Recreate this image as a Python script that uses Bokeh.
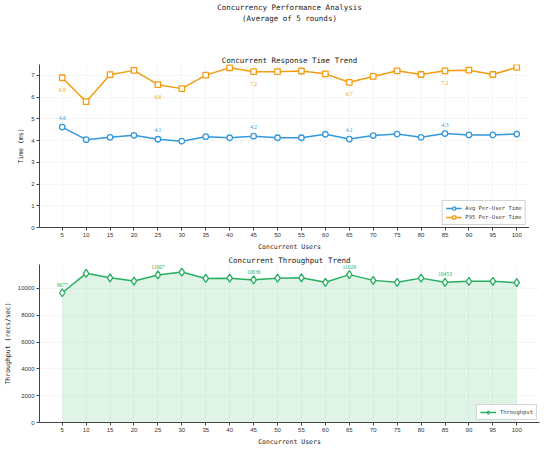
from bokeh.plotting import figure
from bokeh.models import ColumnDataSource, Range1d, FixedTicker, Title
from bokeh.layouts import column
from bokeh.embed import file_html
from bokeh.resources import INLINE

users = [5, 10, 15, 20, 25, 30, 35, 40, 45, 50, 55, 60, 65, 70, 75, 80, 85, 90, 95, 100]
avg_time = [4.62, 4.04, 4.15, 4.24, 4.06, 3.97, 4.18, 4.13, 4.20, 4.13,
            4.13, 4.29, 4.07, 4.23, 4.30, 4.15, 4.32, 4.26, 4.26, 4.30]
p95_time = [6.89, 5.79, 7.03, 7.23, 6.57, 6.39, 7.01, 7.35, 7.17, 7.17,
            7.20, 7.07, 6.68, 6.95, 7.21, 7.04, 7.21, 7.24, 7.04, 7.37]
throughput = [9677, 11127, 10791, 10552, 11007, 11223, 10743, 10767, 10636, 10760,
              10791, 10456, 11029, 10600, 10456, 10767, 10453, 10528, 10528, 10432]
label_idx = [0, 4, 8, 12, 16]
time_ticks = [0, 1, 2, 3, 4, 5, 6, 7]
tp_ticks = [0, 2000, 4000, 6000, 8000, 10000]

BLUE = "#3498db"
ORANGE = "#f39c12"
GREEN = "#27ae60"
MONO = "DejaVu Sans Mono"
SANS = "Liberation Sans"


def mktitle(text, standoff=0):
    return Title(text=text, align="center", text_font=MONO, text_font_size="7.5px",
                 text_font_style="normal", text_color="#222222", standoff=standoff)


def style(p, yticks, ylabel):
    p.outline_line_color = None
    p.background_fill_color = "white"
    for ax in (p.xaxis, p.yaxis):
        ax.axis_line_color = "#444444"
        ax.major_tick_line_color = "#444444"
        ax.minor_tick_line_color = None
        ax.major_tick_out = 3
        ax.major_tick_in = 0
        ax.major_label_text_font = SANS
        ax.major_label_text_font_size = "6px"
        ax.major_label_text_color = "#333333"
        ax.major_label_standoff = 2
        ax.axis_label_text_font = MONO
        ax.axis_label_text_font_size = "6.5px"
        ax.axis_label_text_font_style = "normal"
        ax.axis_label_text_color = "#222222"
        ax.axis_label_standoff = 3
    p.xaxis.ticker = FixedTicker(ticks=users)
    p.yaxis.ticker = FixedTicker(ticks=yticks)
    p.xaxis.axis_label = "Concurrent Users"
    p.yaxis.axis_label = ylabel
    p.grid.grid_line_color = "#d8d8d8"
    p.grid.grid_line_dash = "2 2"
    p.grid.grid_line_alpha = 0.45


# ---------- top: response time ----------
p1 = figure(frame_width=500, frame_height=163, x_range=Range1d(0.25, 104.75), y_range=Range1d(0, 7.5),
            output_backend="svg", toolbar_location=None,
            min_border_left=4, min_border_right=4, min_border_top=0, min_border_bottom=0)
style(p1, time_ticks, "Time (ms)")
p1.add_layout(mktitle("Concurrent Response Time Trend", 0), "above")
p1.add_layout(mktitle(" ", 20), "above")
p1.add_layout(mktitle("(Average of 5 rounds)", 0), "above")
p1.add_layout(mktitle("Concurrency Performance Analysis", 0), "above")

src1 = ColumnDataSource(dict(x=users, avg=avg_time, p95=p95_time))
p1.line("x", "avg", source=src1, color=BLUE, line_width=1.5, legend_label="Avg Per-User Time")
p1.scatter("x", "avg", source=src1, marker="circle", size=5.5, line_color=BLUE,
           fill_color="white", line_width=1.3, legend_label="Avg Per-User Time")
p1.line("x", "p95", source=src1, color=ORANGE, line_width=1.5, legend_label="P95 Per-User Time")
p1.scatter("x", "p95", source=src1, marker="square", size=5.5, line_color=ORANGE,
           fill_color="white", line_width=1.3, legend_label="P95 Per-User Time")

lab1 = ColumnDataSource(dict(
    x=[users[i] for i in label_idx],
    avg=[avg_time[i] for i in label_idx],
    p95=[p95_time[i] for i in label_idx],
    avg_t=[f"{avg_time[i]:.1f}" for i in label_idx],
    p95_t=[f"{p95_time[i]:.1f}" for i in label_idx],
))
p1.text("x", "avg", text="avg_t", source=lab1, text_color=BLUE, text_font_size="5.5px",
        text_align="center", text_baseline="middle", y_offset=-9, text_font=SANS)
p1.text("x", "p95", text="p95_t", source=lab1, text_color=ORANGE, text_font_size="5.5px",
        text_align="center", text_baseline="middle", y_offset=12, text_font=SANS)

# ---------- bottom: throughput ----------
p2 = figure(frame_width=500, frame_height=158, x_range=Range1d(0.25, 104.75), y_range=Range1d(0, 11784),
            output_backend="svg", toolbar_location=None,
            min_border_left=4, min_border_right=4, min_border_top=0, min_border_bottom=0)
style(p2, tp_ticks, "Throughput (recs/sec)")
p2.yaxis.formatter.use_scientific = False
p2.add_layout(mktitle("Concurrent Throughput Trend", 0), "above")

src2 = ColumnDataSource(dict(x=users, tp=throughput, zero=[0] * len(users)))
p2.varea("x", "zero", "tp", source=src2, fill_color=GREEN, fill_alpha=0.15)
p2.line("x", "tp", source=src2, color=GREEN, line_width=1.5, legend_label="Throughput")
p2.scatter("x", "tp", source=src2, marker="diamond", size=8, line_color=GREEN,
           fill_color="white", line_width=1.3, legend_label="Throughput")
lab2 = ColumnDataSource(dict(
    x=[users[i] for i in label_idx],
    tp=[throughput[i] for i in label_idx],
    t=[f"{throughput[i]}" for i in label_idx],
))
p2.text("x", "tp", text="t", source=lab2, text_color=GREEN, text_font_size="5.5px",
        text_align="center", text_baseline="middle", y_offset=-8, text_font=SANS)

for p in (p1, p2):
    lg = p.legend[0]
    lg.location = "bottom_right"
    lg.label_text_font = MONO
    lg.label_text_font_size = "5.5px"
    lg.label_height = 8
    lg.glyph_height = 8
    lg.glyph_width = 16
    lg.label_standoff = 4
    lg.padding = 3
    lg.spacing = 1
    lg.margin = 2
    lg.border_line_color = "#aaaaaa"
    lg.background_fill_alpha = 0.9

layout = column(p1, p2)
open("out.html", "w").write(file_html(layout, INLINE))
